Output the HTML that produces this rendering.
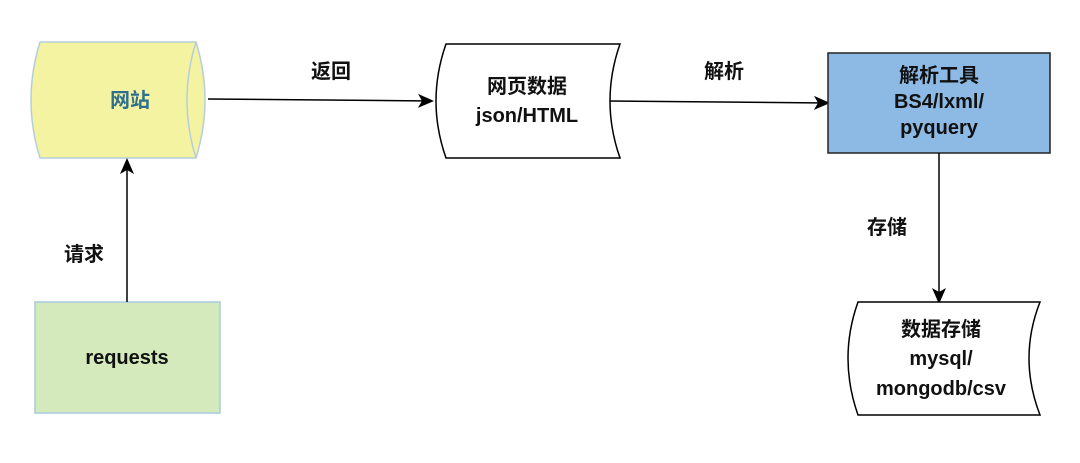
<!DOCTYPE html>
<html><head><meta charset="utf-8"><style>
body{margin:0;background:#fff;}
svg text{font-family:"Liberation Sans","Noto Sans CJK SC",sans-serif;font-size:20px;font-weight:bold;text-anchor:middle;dominant-baseline:central;fill:#111;}
</style></head><body>
<svg width="1080" height="458" viewBox="0 0 1080 458" xmlns="http://www.w3.org/2000/svg">
<defs>
<marker id="b" markerWidth="16" markerHeight="16" refX="14" refY="8" orient="auto" markerUnits="userSpaceOnUse" viewBox="0 0 16 16"><path d="M0,1 L16,8 L0,15 L4,8 Z" fill="#000"/></marker></defs>
<path d="M40,42 L196,42 Q214,100 196,158 L40,158 Q22,100 40,42 Z" fill="#f4f3a2" stroke="#b3cfdc" stroke-width="1.5"/>
<path d="M196,42 Q178,100 196,158" fill="none" stroke="#b3cfdc" stroke-width="1.5"/>
<text x="130" y="101" style="fill:#2e6e8e">网站</text>
<rect x="35" y="302" width="185" height="111" fill="#d4eabc" stroke="#a8c9de" stroke-width="1.5"/>
<text x="127" y="358">requests</text>
<line x1="127" y1="302" x2="127" y2="160" stroke="#000" stroke-width="1.5" marker-end="url(#b)"/>
<text x="84" y="255">请求</text>
<line x1="208" y1="99" x2="432" y2="101" stroke="#000" stroke-width="1.5" marker-end="url(#b)"/>
<text x="331" y="72">返回</text>
<path d="M446,44 L620,44 Q600,101 620,158 L446,158 Q426,101 446,44 Z" fill="#fff" stroke="#000" stroke-width="1.5"/>
<text x="527" y="87">网页数据</text>
<text x="527" y="116">json/HTML</text>
<line x1="610" y1="101" x2="828" y2="103" stroke="#000" stroke-width="1.5" marker-end="url(#b)"/>
<text x="724" y="72">解析</text>
<rect x="828" y="53" width="222" height="100" fill="#8db9e5" stroke="#222" stroke-width="1.5"/>
<text x="939" y="76">解析工具</text>
<text x="939" y="102">BS4/lxml/</text>
<text x="939" y="128">pyquery</text>
<line x1="939" y1="153" x2="939" y2="302" stroke="#000" stroke-width="1.5" marker-end="url(#b)"/>
<text x="887" y="228">存储</text>
<path d="M858,302 L1040,302 Q1018,358 1040,415 L858,415 Q838,358 858,302 Z" fill="#fff" stroke="#000" stroke-width="1.5"/>
<text x="941" y="330">数据存储</text>
<text x="941" y="359">mysql/</text>
<text x="941" y="389">mongodb/csv</text>
</svg>
</body></html>
